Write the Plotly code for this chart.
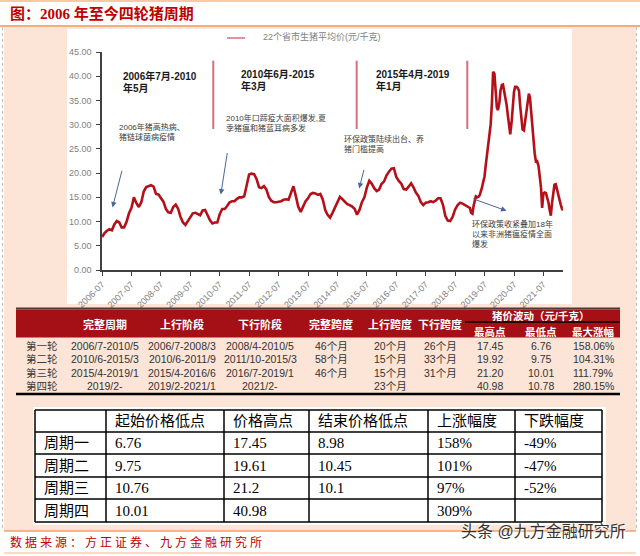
import plotly.graph_objects as go
import pandas as pd

# ---------------- data ----------------
# 22-province average live hog price (yuan/kg), monthly from 2006-07 to 2018-12
price_2006 = [6.8, 7.6, 8.1, 8.4, 8.2, 9.4]
price_2007 = [10.1, 9.8, 8.8, 8.8, 9.9, 11.7, 12.8, 15.0, 13.8, 13.0, 14.0, 16.2]
price_2008 = [17.1, 17.4, 17.5, 17.2, 15.7, 15.6, 14.8, 14.1, 12.6, 11.9, 11.8, 13.0]
price_2009 = [13.5, 12.6, 11.0, 9.8, 9.3, 10.2, 10.9, 11.7, 11.8, 11.5, 11.3, 12.3]
price_2010 = [12.4, 11.3, 10.3, 9.6, 9.8, 9.8, 11.5, 12.6, 12.6, 13.2, 14.0, 14.2]
price_2011 = [14.2, 14.7, 15.0, 15.0, 15.2, 17.5, 19.7, 19.9, 19.8, 18.8, 17.1, 16.9]
price_2012 = [17.3, 16.6, 15.1, 14.3, 14.0, 14.0, 14.1, 14.2, 14.5, 14.6, 14.5, 15.7]
price_2013 = [17.3, 15.2, 13.1, 12.0, 13.0, 14.2, 14.8, 15.7, 15.9, 15.8, 15.5, 15.7]
price_2014 = [14.5, 12.3, 11.4, 10.8, 11.8, 13.0, 13.8, 15.1, 14.6, 14.0, 13.6, 13.4]
price_2015 = [13.1, 12.6, 11.4, 12.4, 14.0, 15.0, 17.0, 18.4, 17.8, 16.9, 16.3, 16.6]
price_2016 = [17.8, 18.3, 19.5, 20.3, 20.9, 21.0, 19.2, 18.4, 17.8, 16.7, 16.6, 17.2]
price_2017 = [17.9, 17.0, 16.0, 15.3, 14.0, 13.4, 13.9, 14.0, 14.2, 14.0, 14.3, 14.8]
price_2018 = [14.8, 13.4, 11.2, 10.2, 10.1, 11.0, 12.5, 13.4, 13.9, 13.7, 13.4, 13.1]
# semi-monthly (1st / 15th) from 2019-01-01
price_2019 = [12.8, 11.8, 11.6, 13.2, 14.7, 15.2, 15.0, 15.1, 15.4, 16.0, 17.1, 18.2,
              19.3, 21.5, 24.0, 26.2, 27.8, 30.0, 34.5, 40.9, 40.5, 36.5, 33.5, 33.0]
price_2020 = [34.5, 37.0, 38.2, 38.3, 37.0, 35.6, 34.0, 32.0, 30.0, 28.0, 30.5, 34.0,
              36.8, 37.8, 37.8, 37.6, 37.0, 34.0, 30.5, 29.0, 28.8, 30.8, 32.5, 34.0]
price_2021 = [36.4, 35.6, 32.0, 29.5, 26.5, 24.0, 22.2, 22.4, 21.5, 19.9, 17.0, 12.8,
              15.8, 16.0, 15.9, 15.0, 14.0, 12.5, 11.2, 13.7, 16.5, 17.6, 17.7, 16.6]
price_2022 = [15.9, 14.8, 13.5, 12.7, 12.3]

monthly = (price_2006 + price_2007 + price_2008 + price_2009 + price_2010 + price_2011 +
           price_2012 + price_2013 + price_2014 + price_2015 + price_2016 + price_2017 + price_2018)
semimonthly = price_2019 + price_2020 + price_2021 + price_2022
dates = list(pd.date_range("2006-07-01", periods=len(monthly), freq="MS")) + \
        list(pd.date_range("2019-01-01", periods=len(semimonthly), freq="SMS"))
prices = monthly + semimonthly

series_name = "22个省市生猪平均价(元/千克)"
boundary_dates = ["2010-04-12", "2015-02-25", "2018-11-29"]
boundary_range = [29.1, 43.2]

period_labels = [["2006年7月-2010", "年5月"], ["2010年6月-2015", "年3月"], ["2015年4月-2019", "年1月"]]
event_notes = [["2006年猪高热病、", "猪链球菌病疫情"],
               ["2010年口蹄疫大面积爆发,夏", "季猪瘟和猪蓝耳病多发"],
               ["环保政策陆续出台、养", "猪门槛提高"],
               ["环保政策收紧叠加18年", "以来非洲猪瘟疫情全面", "爆发"]]

title_text = "图：2006 年至今四轮猪周期"
source_text = "数据来源：方正证券、九方金融研究所"
watermark = "头条 @九方金融研究所"

# table 1
t1_header = ["", "完整周期", "上行阶段", "下行阶段", "完整跨度", "上行跨度", "下行跨度"]
t1_group = "猪价波动（元/千克）"
t1_sub = ["最高点", "最低点", "最大涨幅"]
t1_rows = ["第一轮", "第二轮", "第三轮", "第四轮"]
t1_full = ["2006/7-2010/5", "2010/6-2015/3", "2015/4-2019/1", "2019/2-"]
t1_up = ["2006/7-2008/3", "2010/6-2011/9", "2015/4-2016/6", "2019/2-2021/1"]
t1_down = ["2008/4-2010/5", "2011/10-2015/3", "2016/7-2019/1", "2021/2-"]
t1_span = ["46个月", "58个月", "46个月", ""]
t1_upspan = ["20个月", "15个月", "15个月", "23个月"]
t1_downspan = ["26个月", "33个月", "31个月", ""]
t1_high = ["17.45", "19.92", "21.20", "40.98"]
t1_low = ["6.76", "9.75", "10.01", "10.78"]
t1_maxrise = ["158.06%", "104.31%", "111.79%", "280.15%"]

# table 2
t2_header = ["", "起始价格低点", "价格高点", "结束价格低点", "上涨幅度", "下跌幅度"]
t2_rows = ["周期一", "周期二", "周期三", "周期四"]
t2_start = ["6.76", "9.75", "10.76", "10.01"]
t2_high = ["17.45", "19.61", "21.2", "40.98"]
t2_end = ["8.98", "10.45", "10.1", ""]
t2_rise = ["158%", "101%", "97%", "309%"]
t2_fall = ["-49%", "-47%", "-52%", ""]

# ---------------- layout helpers ----------------
W, H = 640, 556
L, R, T, B = 102, 563, 52, 270


def px(x):
    return (x - L) / (R - L)


def py(y):
    return (B - y) / (B - T)


SANS = "Liberation Sans, Noto Sans CJK SC, sans-serif"
SERIF = "Liberation Serif, Noto Sans CJK SC, serif"

shapes = []
annotations = []


def rect(x0, y0, x1, y1, fill, layer="below"):
    shapes.append(dict(type="rect", xref="paper", yref="paper", x0=px(x0), x1=px(x1),
                       y0=py(y0), y1=py(y1), fillcolor=fill, line=dict(width=0), layer=layer))


def hline(x0, x1, y, color, width, dash="solid", layer="above"):
    shapes.append(dict(type="line", xref="paper", yref="paper", x0=px(x0), x1=px(x1),
                       y0=py(y), y1=py(y), line=dict(color=color, width=width, dash=dash), layer=layer))


def vline(x, y0, y1, color, width, dash="solid", layer="above"):
    shapes.append(dict(type="line", xref="paper", yref="paper", x0=px(x), x1=px(x),
                       y0=py(y0), y1=py(y1), line=dict(color=color, width=width, dash=dash), layer=layer))


def text(t, x, y, size, color="#000000", anchor="left", family=SANS, bold=False):
    annotations.append(dict(text=(f"<b>{t}</b>" if bold else t), x=px(x), y=py(y),
                            xref="paper", yref="paper", xanchor=anchor, yanchor="middle",
                            showarrow=False, font=dict(size=size, color=color, family=family)))


def arrow(tx, ty, hx, hy):
    annotations.append(dict(text="", x=px(hx), y=py(hy), xref="paper", yref="paper",
                            ax=tx - hx, ay=ty - hy, axref="pixel", ayref="pixel",
                            showarrow=True, arrowhead=2, arrowsize=1.1, arrowwidth=1,
                            arrowcolor="#4A6699", standoff=0))


# backgrounds
PEACH = "#FCE4D6"
rect(4, 27, 636, 531, PEACH)
rect(67, 29, 572, 304, "#FFFFFF")
vline(2.5, 27, 531, "#BFBFBF", 1, dash="dot")
vline(636.5, 27, 531, "#BFBFBF", 1, dash="dot")
hline(0, 640, 1, "#F9C9A3", 2)
hline(0, 640, 26, "#F0944A", 1.5)
hline(4, 636, 531, "#F2A06A", 1.5)
hline(4, 636, 553, "#F5B98E", 1.2)

# title
text(title_text, 8, 14, 15, color="#C00000", family=SERIF, bold=True)

# legend (drawn manually)
hline(227, 245, 38, "#D4707A", 1.5)
text(series_name, 261, 36, 9, color="#7F7F7F")

# cycle boundary markers in data coordinates
for d in boundary_dates:
    shapes.append(dict(type="line", xref="x", yref="y", x0=d, x1=d,
                       y0=boundary_range[0], y1=boundary_range[1],
                       line=dict(color="#D4707A", width=2), layer="above"))

# period labels
label_pos = [(121, 76), (239, 74), (374, 74)]
for (l1, l2), (x, y) in zip(period_labels, label_pos):
    text(l1, x, y, 10, color="#1A1A1A", bold=True)
    text(l2, x, y + 12, 10, color="#1A1A1A", bold=True)

# event notes
note_pos = [(117, 127), (224, 118), (342, 139), (470, 224)]
for lines, (x, y) in zip(event_notes, note_pos):
    for i, ln in enumerate(lines):
        text(ln, x, y + 10 * i, 8, color="#404040")

arrow(122.3, 169.3, 112.5, 207.5)
arrow(227.5, 151.5, 220.8, 194.5)
arrow(364.3, 168.3, 359.2, 188.5)
arrow(471.7, 198.3, 506.5, 210.8)

# ---------------- table 1 ----------------
hline(16, 620, 308.5, "#4D3B36", 2)
rect(16, 309.5, 620, 337.5, "#A50F16", layer="above")
hline(465, 620, 322, "#000000", 1.5)
hline(16, 620, 394, "#000000", 2.5)

t1_x = [41.5, 105, 182, 260, 331, 390, 440, 490, 541, 593]
for i, h in enumerate(t1_header):
    if h:
        text(h, t1_x[i], 324, 11, color="#FFFFFF", anchor="center", bold=True)
text(t1_group, 540, 316, 10.5, color="#FFFFFF", anchor="center", bold=True)
for j, h in enumerate(t1_sub):
    text(h, t1_x[7 + j], 331.5, 10.5, color="#FFFFFF", anchor="center", bold=True)

t1_cols = [t1_rows, t1_full, t1_up, t1_down, t1_span, t1_upspan, t1_downspan,
           t1_high, t1_low, t1_maxrise]
row_y1 = [346, 359, 373, 386]
for c, col in enumerate(t1_cols):
    for r, v in enumerate(col):
        if v:
            text(v, t1_x[c], row_y1[r], 10.5, color="#333333" if c else "#3A3A3A", anchor="center")

# ---------------- table 2 ----------------
rect(33, 407, 606, 525, "#FFFFFF", layer="above")
t2_colx = [35, 106, 224, 309, 428, 515, 602]
t2_rowy = [410, 432, 454, 477, 499, 522]
for x in t2_colx:
    vline(x, 410, 522, "#000000", 1.5)
for y in t2_rowy:
    hline(35, 602, y, "#000000", 1.5)

t2_cols = [t2_rows, t2_start, t2_high, t2_end, t2_rise, t2_fall]
for c, h in enumerate(t2_header):
    if h:
        text(h, t2_colx[c] + 7, (t2_rowy[0] + t2_rowy[1]) / 2, 15, family=SERIF)
for c, col in enumerate(t2_cols):
    for r, v in enumerate(col):
        if v:
            text(v, t2_colx[c] + 7, (t2_rowy[r + 1] + t2_rowy[r + 2]) / 2, 15, family=SERIF)

# source + watermark
annotations.append(dict(text=f'<span style="letter-spacing:3px">{source_text}</span>',
                        x=px(8), y=py(542), xref="paper", yref="paper", xanchor="left",
                        yanchor="middle", showarrow=False,
                        font=dict(size=12, color="#C00000", family=SANS)))
annotations.append(dict(text=watermark, x=px(459), y=py(531), xref="paper", yref="paper",
                        xanchor="left", yanchor="middle", showarrow=False,
                        font=dict(size=16, color="#333333", family=SANS,
                                  shadow="1px 1px 2px #ffffff")))

# ---------------- figure ----------------
fig = go.Figure()
fig.add_trace(go.Scatter(x=dates, y=prices, mode="lines", name=series_name,
                         line=dict(color="#B4101A", width=2.6), hoverinfo="x+y"))

fig.update_layout(
    width=W, height=H,
    margin=dict(l=L, r=W - R, t=T, b=H - B, pad=0),
    paper_bgcolor="#FFFFFF",
    plot_bgcolor="rgba(0,0,0,0)",
    showlegend=False,
    shapes=shapes,
    annotations=annotations,
    xaxis=dict(type="date", range=["2006-07-01", "2022-03-01"], tick0="2006-07-01",
               dtick="M12", tickformat="%Y-%m", tickangle=-45, ticks="outside", ticklen=4,
               tickcolor="#404040", showline=True, linecolor="#404040", linewidth=1.5,
               showgrid=False, zeroline=False,
               tickfont=dict(size=9, color="#7F7F7F", family=SANS)),
    yaxis=dict(range=[0, 45], dtick=5, tickformat=".2f", ticks="outside", ticklen=4,
               tickcolor="#404040", showline=True, linecolor="#404040", linewidth=1.5,
               showgrid=False, zeroline=False, ticklabelstandoff=3,
               tickfont=dict(size=9, color="#7F7F7F", family=SANS)),
)

fig.write_html("out.html")
